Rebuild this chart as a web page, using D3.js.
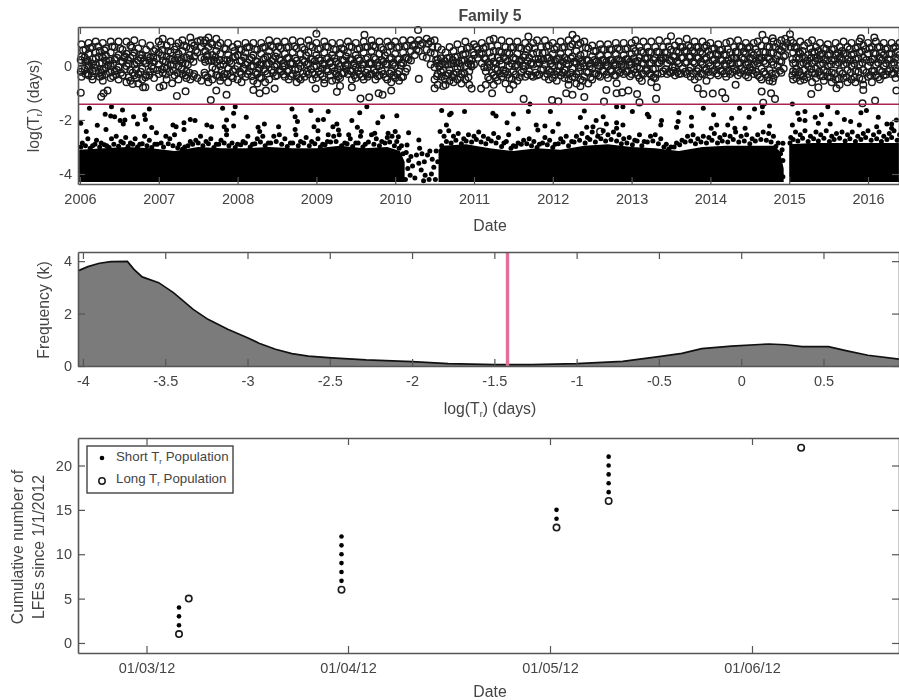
<!DOCTYPE html>
<html>
<head>
<meta charset="utf-8">
<script src="https://cdn.jsdelivr.net/npm/d3@7"></script>
<style>
  body { margin: 0; background: #fff; }
  svg { display: block; filter: blur(0.5px); font-family: "Liberation Sans", Arial, sans-serif; }
  text { fill: #444; }
</style>
</head>
<body>
<div id="chart"></div>
<script>
// tick labels
const yearTicks = [2006, 2007, 2008, 2009, 2010, 2011, 2012, 2013, 2014, 2015, 2016];
const recurrenceTicks = [-4, -2, 0];
const histTicksX = [-4, -3.5, -3, -2.5, -2, -1.5, -1, -0.5, 0, 0.5];
const histTicksY = [0, 2, 4];
const countTicks = [0, 5, 10, 15, 20];
const monthTicks = ["2012-03-01", "2012-04-01", "2012-05-01", "2012-06-01"];

// threshold between the two populations, log(Tr)
const threshold = -1.42;

const long2006 = [[.02,.8,.35,-.1,-.4],[.07,.6,.15,-.3],[.11,.85,.45,0,-.35],[.16,.7,.25,-.2,-.5],[.2,.9,.5,.05],[.25,.55,.1,-.4],[.29,.85,.3,-.15,-.55],[.33,.65,.2,-.3],[.39,.9,.5,0,-.45],[.44,.7,.25,-.2],[.49,.9,.4,-.05,-.5],[.54,.6,.15,-.35],[.59,.9,.45,0,-.6],[.64,.75,.3,-.15,-.55],[.69,.95,.5,.05,-.35],[.74,.65,.2,-.3,-.65],[.79,.85,.4,-.1,-.5],[.84,.6,.1,-.35],[.89,.75,.3,-.2],[.94,.55,.15,-.45]];
const long2007 = [[.0,.9,.5,.05,-.3],[.05,1,.6,.2,-.25],[.1,.75,.35,-.1,-.5],[.15,.9,.5,.05],[.2,.6,.2,-.35],[.25,.85,.45,0,-.5],[.3,.95,.55,.1,-.3],[.35,.7,.3,-.2,-.45],[.4,1.05,.65,.25,-.5],[.45,.75,.35,-.3],[.49,.9,.5,-.45],[.54,.7,.3,-.55],[.59,.95,.55,.15,-.35],[.63,1.05,.7,.2,-.6],[.68,.8,.4,-.05,-.5],[.73,1,.55,.15,-.35],[.78,.85,.45,0,-.55],[.83,.65,.2,-.3],[.88,.85,.4,-.1,-.6],[.94,.7,.3,-.2,-.45]];
const long2008 = [[.0,.8,.4,0,-.5],[.05,.6,.2,-.3,-.6],[.1,.85,.5,.05,-.4],[.15,.7,.25,-.2],[.2,.85,.4,0,-.55],[.25,.6,.15,-.3,-.65],[.3,.85,.45,.05,-.45],[.35,.7,.3,-.2,-.6],[.4,.95,.55,.1,-.5],[.45,.7,.25,-.25],[.5,.9,.5,.05,-.35],[.55,.65,.2,-.2],[.6,.9,.45,0,-.4],[.65,.7,.3,-.15,-.5],[.7,.95,.5,.1,-.3],[.75,.65,.2,-.35,-.6],[.8,.9,.45,0,-.5],[.85,.6,.15,-.4],[.9,.95,.5,.1,-.3],[.95,.7,.25,-.25,-.5]];
const long2009 = [[.0,.85,.4,0,-.45],[.05,.65,.2,-.3],[.1,.9,.5,.05,-.5],[.15,.7,.3,-.2],[.2,.85,.4,-.05,-.55],[.25,.6,.15,-.3,-.5],[.3,.85,.45,0,-.45],[.35,.6,.2,-.25],[.4,.9,.5,.05,-.3],[.45,.7,.25,-.2,-.5],[.5,.85,.4,-.05,-.45],[.55,.65,.2,-.3],[.6,.9,.5,.05,-.5],[.65,.7,.3,-.15,-.4],[.7,.95,.55,.1,-.3],[.75,.7,.25,-.25,-.5],[.8,.9,.45,0,-.35],[.85,.6,.15,-.3],[.9,.9,.5,.05,-.5],[.95,.75,.3,-.2,-.6]];
const long2010 = [[.0,.9,.45,0,-.45],[.05,.7,.25,-.2,-.55],[.1,.95,.5,.1,-.4],[.15,.75,.3,-.1],[.2,.95,.55,.2],[.25,.8,.4],[.3,.95,.55],[.35,.85,.35],[.4,1,.6,.3],[.45,.9,.5,.05],[.5,.95,.45,-.05,-.5],[.54,.7,.25,-.3,-.7],[.59,.6,.1,-.4],[.64,.5,.05,-.35,-.7],[.69,.7,.3,-.15,-.55],[.74,.55,.1,-.3,-.6],[.79,.8,.35,-.1,-.5],[.84,.6,.2,-.3,-.65],[.89,.9,.45,0,-.5],[.94,.7,.25,-.2,-.7]];
const long2011 = [[.0,.8,.4,.05],[.05,.6,.3],[.1,.85,.45,.1],[.15,.7,.25,-.2,-.7],[.2,.95,.5,.05,-.5],[.25,1,.55,.15,-.35,-.7],[.3,.75,.3,-.15,-.55],[.35,.95,.5,.05,-.4],[.4,.7,.25,-.2,-.65],[.45,.9,.45,0,-.45],[.5,.7,.3,-.2,-.7],[.55,.9,.45,.05,-.55],[.6,.65,.2,-.25],[.65,.85,.4,0,-.4],[.7,.7,.3,-.2],[.75,.85,.45,.05,-.4],[.8,.95,.5,.1,-.35],[.85,.7,.25,-.15],[.9,.95,.5,.05,-.4],[.95,.75,.3,-.15,-.5]];
const long2012 = [[.0,.85,.45,0,-.45],[.05,.7,.25,-.2,-.55],[.1,.9,.45,0,-.35],[.15,.7,.3,-.15,-.45],[.2,.95,.5,.05,-.5,-.7],[.25,.8,.35,-.1,-.4],[.3,1,.55,.1,-.3,-.65],[.35,.85,.4,-.05,-.5,-.75],[.4,.9,.45,0,-.4],[.45,.65,.2,-.25,-.65],[.5,.75,.35,-.1,-.5],[.55,.55,.15,-.3],[.6,.8,.4,0,-.4],[.65,.6,.2,-.2],[.7,.8,.4,0,-.45],[.75,.6,.2,-.2],[.8,.85,.45,.05,-.35],[.85,.6,.2,-.25],[.9,.85,.4,0,-.3],[.95,.65,.25,-.2]];
const long2013 = [[.0,.85,.45,.05,-.3],[.05,.95,.55,.15,-.25],[.1,.7,.3,-.1,-.45],[.15,.9,.5,.1,-.3],[.2,.7,.3,-.15],[.25,.9,.5,.1,-.35,-.6],[.3,.7,.3,-.1,-.45],[.35,.95,.5,.1],[.4,.7,.3,-.2],[.45,.9,.5,.1,-.3],[.5,1.1,.6,.2,-.25],[.55,.75,.35,-.05,-.35],[.6,.9,.5,.1,-.3],[.65,.7,.3,-.1],[.7,1,.55,.15,-.3],[.75,.7,.35,-.05,-.4],[.8,.9,.5,.1,-.5],[.85,.7,.3,-.1,-.4],[.9,.9,.45,.05,-.3],[.95,.75,.3,-.1,-.55]];
const long2014 = [[.0,.85,.4,0,-.35],[.05,.65,.25,-.15],[.1,.8,.4,0,-.35],[.15,.6,.2,-.2],[.2,.85,.4,0,-.4],[.25,.9,.5,.1,-.3],[.3,.7,.3,-.1],[.35,.95,.5,.1,-.35],[.4,.7,.3,-.1],[.45,.85,.45,.05,-.35],[.5,.7,.3,-.05],[.55,.85,.4,.05,-.3],[.6,.9,.5,.1,-.35],[.65,.75,.3,-.1,-.5],[.7,.95,.5,.1,-.3],[.75,.7,.25,-.15,-.55],[.8,.9,.5,.05,-.45],[.85,.85,.4,0],[.9,.95,.55,.15,-.25],[.95,1,.7,.4]];
const long2015 = [[.02,.95,.7],[.05,.85,.5,.1,-.2,-.5],[.09,.7,.3,-.1,-.45],[.14,.9,.45,.05,-.35,-.55],[.19,.75,.3,-.15,-.5],[.24,.85,.4,0,-.3],[.29,.95,.5,.1,-.25,-.6],[.34,.7,.3,-.1,-.45],[.39,.85,.4,.05,-.35],[.44,.65,.25,-.15,-.55],[.49,.8,.4,0,-.4],[.54,.6,.2,-.25,-.6],[.59,.85,.4,.05,-.5],[.64,.7,.3,-.2,-.7],[.69,.9,.45,.05,-.45],[.74,.7,.25,-.15,-.6],[.79,.85,.4,0,-.5],[.84,.65,.25,-.2,-.6],[.89,.9,.5,.05,-.45],[.94,.75,.3,-.15,-.7]];
const long2016 = [[.0,.85,.45,0,-.4],[.05,.7,.25,-.2,-.6],[.1,.9,.45,.05,-.35],[.15,.7,.3,-.15,-.5],[.2,.85,.4,0,-.35],[.25,.65,.25,-.2],[.3,.85,.45,.05,-.3],[.35,.7,.3,-.1,-.45],[.4,.85,.4,0,-.3]];
const longColumns = [long2006, long2007, long2008, long2009, long2010, long2011, long2012, long2013, long2014, long2015, long2016];

// more rings inside the band, it is much darker than the columns alone
const longFill = [[2006.04,.58],[2006.09,.02],[2006.13,.66],[2006.18,-.07],[2006.23,.72],[2006.27,-.24],[2006.31,.58],[2006.36,.03],[2006.41,.72],[2006.46,-.33],[2006.51,.65],[2006.56,.31],[2006.61,.22],[2006.66,.68],[2006.71,-.14],[2006.76,.42],[2006.81,.18],[2006.86,.36],[2006.91,-.02],[2006.96,.62],
[2007.03,.78],[2007.07,-.05],[2007.12,.55],[2007.17,.25],[2007.22,.72],[2007.27,.18],[2007.32,.75],[2007.37,.05],[2007.42,.85],[2007.57,.85],[2007.61,.35],[2007.66,.85],[2007.7,.22],[2007.75,.75],[2007.8,-.15],[2007.85,.62],[2007.9,.18],[2007.96,.55],[2007.53,.95],[2007.47,.58],
[2008.02,.62],[2008.07,-.1],[2008.12,.68],[2008.17,-.02],[2008.22,.62],[2008.27,-.1],[2008.32,.68],[2008.37,.08],[2008.42,.75],[2008.47,-.02],[2008.52,.72],[2008.57,-.02],[2008.62,.68],[2008.67,.08],[2008.72,.72],[2008.77,-.1],[2008.82,.68],[2008.87,.38],[2008.92,.75],[2008.97,-.02],
[2009.02,.62],[2009.07,-.1],[2009.12,.72],[2009.17,.1],[2009.22,.62],[2009.27,-.12],[2009.32,.65],[2009.37,.02],[2009.42,.72],[2009.47,.02],[2009.52,.62],[2009.57,-.1],[2009.62,.7],[2009.67,.08],[2009.72,.75],[2009.77,.02],[2009.82,.68],[2009.87,.38],[2009.92,.72],[2009.97,.05],
[2010.02,.68],[2010.07,.02],[2010.12,.72],[2010.17,.25],[2010.22,.75],[2010.27,.6],[2010.32,.78],[2010.42,.82],[2010.47,.7],[2010.52,.22],[2010.56,-.02],[2010.61,-.15],[2010.66,.28],[2010.71,.08],[2010.76,.32],[2010.81,.1],[2010.86,.42],[2010.91,.65],[2010.96,.05],[2010.99,.5],
[2011.03,.7],[2011.07,.45],[2011.12,.65],[2011.17,-.05],[2011.22,.72],[2011.27,-.1],[2011.32,.55],[2011.37,-.15],[2011.42,.5],[2011.47,.68],[2011.52,-.02],[2011.57,.68],[2011.62,.02],[2011.67,.62],[2011.72,.08],[2011.77,.65],[2011.82,.25],[2011.87,.48],[2011.92,.72],[2011.97,.08],
[2012.02,.62],[2012.07,.02],[2012.12,.68],[2012.17,.08],[2012.22,.72],[2012.27,.15],[2012.32,.78],[2012.37,.18],[2012.42,.68],[2012.47,-.02],[2012.52,.55],[2012.57,.02],[2012.62,.62],[2012.67,.02],[2012.72,.62],[2012.77,.02],[2012.82,.65],[2012.87,.05],[2012.92,.62],[2012.97,.05],
[2013.02,.65],[2013.07,-.02],[2013.12,.55],[2013.17,.28],[2013.22,.52],[2013.27,-.12],[2013.32,.52],[2013.37,.3],[2013.42,.5],[2013.47,.72],[2013.52,-.05],[2013.57,.55],[2013.62,.7],[2013.67,.55],[2013.72,.75],[2013.77,.55],[2013.82,.7],[2013.87,.52],[2013.92,.68],[2013.97,.55],
[2014.02,.62],[2014.07,.45],[2014.12,.58],[2014.17,.42],[2014.22,.62],[2014.27,.28],[2014.32,.52],[2014.37,.72],[2014.42,.52],[2014.47,.65],[2014.52,.5],[2014.57,.62],[2014.62,.3],[2014.67,.52],[2014.72,.72],[2014.77,.48],[2014.82,.7],[2014.87,.62],[2014.92,.72],[2014.97,.85],
[2015.07,.68],[2015.12,.52],[2015.17,.55],[2015.22,.08],[2015.27,.65],[2015.32,.52],[2015.37,.55],[2015.42,.45],[2015.47,.62],[2015.52,.45],[2015.57,.62],[2015.62,.48],[2015.67,.55],[2015.72,.48],[2015.77,.62],[2015.82,.45],[2015.87,.7],[2015.92,.55],[2015.97,.62],[2016.02,.65],
[2016.07,.48],[2016.12,.68],[2016.17,.5],[2016.22,.62],[2016.27,.45],[2016.32,.65],[2016.37,.52]];

// lower half of the band, also the darkest part: [year, values...]
const longLower = [[2006.01,.22,-.22],[2006.06,.32,-.12],[2006.1,.18,-.28],[2006.15,.08,-.38],[2006.2,.28,-.18],[2006.24,.35,-.26],[2006.28,.12,-.36],[2006.33,.38,-.08],[2006.38,.2,-.24],[2006.42,.08,-.38],[2006.47,.3,-.15],[2006.52,.18,-.25],[2006.57,.35,-.12],[2006.62,.08,-.42],[2006.67,.38,-.25],[2006.72,.12,-.45],[2006.77,.28,-.22],[2006.83,.1,-.42],[2006.88,.2,-.35],[2006.93,.32,-.1],
[2006.98,.28,-.15],[2007.04,.38,-.12],[2007.09,.15,-.32],[2007.14,.25,-.22],[2007.19,.05,-.18],[2007.24,.3,-.25],[2007.29,.25,-.12],[2007.34,.1,-.35],[2007.39,.4,-.25],[2007.44,.15,-.38],[2007.58,.25,-.25],[2007.62,.4,-.42],[2007.67,.2,-.28],[2007.72,.32,-.12],[2007.77,.22,-.4],[2007.82,.05,-.42],[2007.87,.22,-.3],[2007.92,.1,-.38],[2007.97,.35,-.12],
[2008.03,.18,-.22],[2008.08,.32,-.1],[2008.13,.12,-.3],[2008.18,.3,-.38],[2008.23,.18,-.25],[2008.28,.05,-.42],[2008.33,.25,-.12],[2008.38,.35,-.28],[2008.43,.18,-.15],[2008.48,.35,-.38],[2008.53,.25,-.15],[2008.58,.1,-.32],[2008.63,.28,-.2],[2008.68,.12,-.38],[2008.73,.28,-.15],[2008.78,.08,-.45],[2008.83,.22,-.28],[2008.88,.05,-.22],[2008.93,.25,-.12],[2008.98,.18,-.32],
[2009.03,.28,-.2],[2009.08,.08,-.38],[2009.13,.25,-.12],[2009.18,.15,-.35],[2009.23,.28,-.2],[2009.28,.08,-.38],[2009.33,.22,-.28],[2009.38,.35,-.12],[2009.43,.22,-.18],[2009.48,.1,-.35],[2009.53,.28,-.18],[2009.58,.05,-.4],[2009.63,.25,-.25],[2009.68,.12,-.32],[2009.73,.3,-.15],[2009.78,.12,-.38],[2009.83,.22,-.18],[2009.88,.08,-.42],[2009.93,.25,-.28],[2009.98,.12,-.35],
[2010.03,.25,-.3],[2010.08,.12,-.42],[2010.13,.3,-.22],[2010.53,.1,-.38],[2010.58,.28,-.22],[2010.63,.18,-.48],[2010.68,.05,-.28],[2010.73,.22,-.42],[2010.78,.12,-.25],[2010.83,-.02,-.42],[2010.88,.2,-.28],[2010.93,.1,-.42],[2010.97,.22,-.02],
[2011.13,.28,-.05],[2011.18,.12,-.42],[2011.23,.32,-.25],[2011.28,.08,-.42],[2011.33,.2,-.28],[2011.38,.32,-.28],[2011.43,.18,-.32],[2011.48,.08,-.48],[2011.53,.25,-.32],[2011.58,.18,-.42],[2011.63,.32,-.12],[2011.68,.18,-.32],[2011.73,.12,-.35],[2011.78,.25,-.25],[2011.83,.12,-.32],[2011.88,.22,-.12],[2011.93,.28,-.3],[2011.98,.2,-.22],
[2012.03,.18,-.32],[2012.08,.28,-.22],[2012.13,.15,-.25],[2012.18,.22,-.32],[2012.23,.28,-.25],[2012.28,.15,-.42],[2012.33,.25,-.2],[2012.38,.1,-.55],[2012.43,.22,-.22],[2012.48,.08,-.42],[2012.53,.22,-.28],[2012.58,.12,-.35],[2012.63,.22,-.18],[2012.68,.15,-.32],[2012.73,.22,-.15],[2012.78,.12,-.35],[2012.83,.25,-.18],[2012.88,.18,-.12],[2012.93,.25,-.22],[2012.98,.15,-.38],
[2013.03,.28,-.12],[2013.08,.18,-.35],[2013.13,.1,-.28],[2013.18,.25,-.18],[2013.23,.12,-.28],[2013.28,.22,-.42],[2013.33,.12,-.3],[2013.38,.2,-.28],[2013.43,.3,-.12],[2013.48,.22,-.22],[2013.53,.35,-.18],[2013.58,.18,-.22],[2013.63,.3,-.28],[2013.68,.12,-.22],[2013.73,.32,-.18],[2013.78,.15,-.28],[2013.83,.3,-.2],[2013.88,.15,-.28],[2013.93,.25,-.15],[2013.98,.12,-.22],
[2014.03,.2,-.22],[2014.08,.1,-.28],[2014.13,.22,-.18],[2014.18,.08,-.28],[2014.23,.2,-.18],[2014.28,.1,-.22],[2014.33,.28,-.18],[2014.38,.12,-.25],[2014.43,.25,-.18],[2014.48,.12,-.22],[2014.53,.25,-.15],[2014.58,.18,-.22],[2014.63,.22,-.42],[2014.68,.18,-.22],[2014.73,.3,-.42],[2014.78,.15,-.28],[2014.83,.25,-.3],[2014.88,.18,-.18],[2014.93,.35,-.1],
[2015.04,.25,-.35],[2015.08,.12,-.25],[2015.13,.28,-.22],[2015.18,.12,-.38],[2015.23,.2,-.42],[2015.28,.3,-.12],[2015.33,.18,-.28],[2015.38,.25,-.22],[2015.43,.1,-.38],[2015.48,.2,-.22],[2015.53,.05,-.42],[2015.58,.22,-.28],[2015.63,.12,-.48],[2015.68,.22,-.28],[2015.73,.1,-.42],[2015.78,.2,-.25],[2015.83,.08,-.42],[2015.88,.28,-.22],[2015.93,.12,-.5],[2015.98,.22,-.25],
[2016.03,.15,-.35],[2016.08,.25,-.2],[2016.13,.12,-.42],[2016.18,.22,-.22],[2016.23,.1,-.32],[2016.28,.22,-.12],[2016.33,.12,-.28],[2016.38,.25,-.15]];

// rings standing apart from the band, read one by one
const longOutliers = [[2006.01,-.99],[2006.27,-1.14],[2006.3,-1.01],[2006.35,-.91],[2006.67,-.67],[2006.8,-.79],[2006.83,-.79],[2007.01,-.79],[2007.06,-.73],[2007.17,-.64],[2007.23,-1.11],[2007.34,-.94],[2007.66,-1.26],[2007.73,-.91],[2007.86,-1.07],[2008.2,-.89],[2008.28,-1.01],[2008.36,-.91],[2008.47,-.84],[2009,1.19],[2008.99,-.84],[2009.1,-.64],[2009.26,-.96],[2009.3,-.74],[2009.45,-.79],[2009.61,1.15],[2009.56,-1.21],[2009.67,-1.16],[2009.79,-1.01],[2009.84,-1.07],[2009.95,-.91],[2010.29,1.33],[2010.3,-.48],[2010.5,-.83],[2010.61,-.74],[2010.97,-.84],[2011.09,-.84],[2011.23,-1.01],[2011.45,-.86],[2011.63,-1.22],[2011.69,1.09],[2011.99,-1.26],[2012.07,-1.31],[2012.17,-1.01],[2012.25,-1.07],[2012.25,1.15],[2012.4,-1.15],[2012.65,-1.32],[2012.68,-.89],[2012.81,-1.01],[2012.81,-.64],[2012.88,-.98],[2012.96,-.91],[2013.07,-1.04],[2013.1,-1.35],[2013.13,-.56],[2013.31,-1.22],[2013.32,-.79],[2013.84,-.83],[2013.91,-1.04],[2014.03,-1.02],[2014.15,-.98],[2014.19,-1.2],[2014.32,-.7],[2014.48,-.42],[2014.66,1.15],[2014.79,1.02],[2015.01,1.17],[2014.65,-.95],[2014.79,-.58],[2014.77,-1.01],[2014.82,-1.22],[2014.67,-1.36],[2015.28,-1.04],[2015.37,-.79],[2015.6,-.83],[2015.93,-1.38],[2015.94,-.89],[2016.09,-1.28],[2015.91,1.02],[2016.08,1.05],[2016.36,-.91],[2012.6,-2.43]];

// short Tr dots above the solid cloud, read one by one
const shortIsolated = [[2006.12,-1.57],[2006.4,-1.51],[2006.54,-1.63],[2006.32,-1.79],[2006.39,-1.85],[2006.44,-1.88],[2006.51,-2.02],[2006.57,-2],[2006.55,-2.15],[2006.68,-1.88],[2006.73,-2.15],[2006.82,-1.81],[2006.83,-1.98],[2006.88,-1.59],[2006.91,-2.28],[2006.01,-2.12],[2006.08,-2.43],[2006.22,-2.2],[2006.33,-2.35],[2006.97,-2.47],[2007.18,-2.19],[2007.22,-2.25],[2007.32,-2.1],[2007.32,-2.35],[2007.4,-1.98],[2007.46,-2.02],[2007.61,-2.19],[2007.67,-2.25],[2007.81,-1.57],[2007.97,-1.51],[2007.95,-1.75],[2007.86,-2],[2007.83,-2.25],[2007.86,-2.37],[2007.95,-2.22],[2008.11,-1.9],[2008.26,-2.27],[2008.34,-2.15],[2008.28,-2.43],[2008.52,-2.25],[2008.69,-1.59],[2008.73,-1.88],[2008.76,-2.06],[2008.73,-2.35],[2008.93,-1.65],[2009.15,-1.69],[2009.02,-2],[2009.09,-1.98],[2008.97,-2.25],[2009.02,-2.4],[2009.26,-2.15],[2009.21,-2.25],[2009.28,-2.37],[2009.15,-2.55],[2009.45,-2.02],[2009.52,-2.27],[2009.41,-2.55],[2009.55,-1.73],[2009.64,-1.51],[2009.57,-2.43],[2009.84,-1.88],[2009.78,-2.1],[2009.74,-2.49],[2010.02,-1.84],[2009.91,-2.49],[2010,-2.43],[2010.04,-2.62],[2010.17,-2.47],[2010.15,-2.93],[2010.3,-2.74],[2010.59,-1.65],[2010.69,-1.81],[2010.65,-2.19],[2010.57,-2.43],[2010.71,-1.75],[2010.88,-1.69],[2011.24,-1.75],[2011.28,-1.85],[2011.5,-1.78],[2011.42,-2.1],[2011.56,-2.33],[2011.69,-1.69],[2011.71,-1.41],[2011.97,-1.69],[2012.07,-2.15],[2011.79,-2.19],[2011.9,-2.22],[2011.81,-2.37],[2012,-2.43],[2012.4,-1.67],[2012.35,-1.91],[2012.64,-1.88],[2012.55,-2.02],[2012.68,-2.15],[2012.51,-2.25],[2012.43,-2.27],[2012.81,-2.1],[2012.89,-2.19],[2012.81,-2.31],[2012.81,-1.51],[2012.89,-1.51],[2013.01,-1.69],[2013.2,-1.79],[2013.22,-1.88],[2013.38,-2.02],[2013.37,-2.19],[2013.6,-1.73],[2013.59,-2.06],[2013.57,-2.27],[2013.76,-1.9],[2013.76,-2.22],[2013.91,-1.57],[2014.04,-1.81],[2014.08,-2.19],[2014.01,-2.31],[2014.27,-1.94],[2014.22,-2.19],[2014.31,-2.31],[2014.37,-1.57],[2014.56,-1.59],[2014.66,-1.51],[2014.66,-1.73],[2014.49,-1.9],[2014.44,-2.31],[2014.75,-2.22],[2014.92,-2.86],[2014.92,-4.1],[2015.04,-1.41],[2015.04,-2.19],[2015.11,-1.75],[2015.2,-1.69],[2015.13,-1.98],[2015.2,-2.02],[2015.33,-1.9],[2015.41,-1.81],[2015.37,-2.12],[2015.52,-2.15],[2015.49,-1.51],[2015.61,-1.72],[2015.7,-1.98],[2015.78,-2.06],[2015.89,-2.19],[2015.91,-1.73],[2015.98,-1.65],[2016.13,-1.9],[2016.24,-2.15],[2016.3,-2.15],[2016.3,-2.31],[2016.11,-2.25],[2016.36,-2]];

// ragged upper edge of the cloud, also by eye
const shortEdge = [[2006.03,-2.85],[2006.1,-2.7],[2006.16,-2.95],[2006.21,-2.75],[2006.27,-2.85],[2006.34,-2.95],[2006.4,-2.7],[2006.46,-2.6],[2006.52,-2.8],[2006.58,-2.65],[2006.64,-2.85],[2006.7,-2.7],[2006.76,-2.9],[2006.82,-2.6],[2006.88,-2.75],[2006.95,-2.9],[2007.03,-2.85],[2007.09,-2.6],[2007.14,-2.7],[2007.2,-2.55],[2007.26,-2.9],[2007.33,-3],[2007.4,-2.8],[2007.47,-2.75],[2007.53,-2.6],[2007.6,-2.8],[2007.66,-2.7],[2007.73,-2.9],[2007.79,-2.75],[2007.86,-2.55],[2007.93,-2.85],[2008,-2.9],[2008.07,-2.8],[2008.13,-2.6],[2008.19,-2.9],[2008.25,-2.7],[2008.32,-2.6],[2008.39,-2.85],[2008.46,-2.6],[2008.53,-2.55],[2008.6,-2.7],[2008.67,-2.85],[2008.74,-2.55],[2008.8,-2.8],[2008.87,-2.65],[2008.94,-2.8],[2009.02,-2.7],[2009.08,-2.9],[2009.14,-2.8],[2009.22,-2.6],[2009.29,-2.55],[2009.36,-2.85],[2009.43,-2.7],[2009.5,-2.85],[2009.56,-2.6],[2009.62,-2.9],[2009.7,-2.55],[2009.76,-2.7],[2009.83,-2.8],[2009.9,-2.65],[2009.96,-2.6],[2010.02,-2.8],[2010.08,-2.95],[2010.62,-2.6],[2010.68,-2.4],[2010.74,-2.6],[2010.8,-2.5],[2010.87,-2.7],[2010.93,-2.55],[2011,-2.6],[2011.06,-2.45],[2011.12,-2.6],[2011.18,-2.7],[2011.25,-2.5],[2011.31,-2.65],[2011.38,-2.85],[2011.44,-2.55],[2011.5,-2.95],[2011.56,-2.85],[2011.63,-2.75],[2011.7,-2.7],[2011.76,-2.8],[2011.83,-2.9],[2011.9,-2.65],[2011.96,-2.75],[2012.03,-2.9],[2012.1,-2.7],[2012.17,-2.6],[2012.24,-2.8],[2012.3,-2.6],[2012.37,-2.5],[2012.44,-2.65],[2012.5,-2.45],[2012.57,-2.6],[2012.64,-2.4],[2012.7,-2.55],[2012.77,-2.45],[2012.84,-2.55],[2012.9,-2.7],[2012.97,-2.65],[2013.04,-2.75],[2013.1,-2.55],[2013.16,-2.8],[2013.24,-2.6],[2013.3,-2.55],[2013.37,-2.7],[2013.44,-2.9],[2013.5,-3],[2013.57,-2.85],[2013.64,-2.75],[2013.71,-2.6],[2013.78,-2.55],[2013.84,-2.7],[2013.91,-2.6],[2013.98,-2.65],[2014.05,-2.5],[2014.12,-2.65],[2014.18,-2.55],[2014.25,-2.6],[2014.32,-2.45],[2014.39,-2.6],[2014.46,-2.55],[2014.53,-2.7],[2014.6,-2.55],[2014.67,-2.45],[2014.74,-2.5],[2014.8,-2.6],[2014.86,-2.85],[2014.91,-3.1],[2015.02,-2.65],[2015.08,-2.45],[2015.14,-2.55],[2015.2,-2.4],[2015.27,-2.6],[2015.34,-2.45],[2015.4,-2.55],[2015.47,-2.4],[2015.54,-2.6],[2015.6,-2.5],[2015.67,-2.45],[2015.74,-2.55],[2015.8,-2.45],[2015.87,-2.6],[2015.94,-2.5],[2016,-2.4],[2016.07,-2.55],[2016.14,-2.45],[2016.2,-2.6],[2016.27,-2.5],[2016.33,-2.4],[2016.4,-2.55]];

// a second row closing the step between those dots and the solid cloud
const shortEdgeLow = [[2006.01,-3],[2006.07,-2.95],[2006.13,-3.05],[2006.19,-2.9],[2006.25,-3],[2006.31,-2.92],[2006.37,-3.02],[2006.43,-2.9],[2006.49,-2.97],[2006.55,-2.85],[2006.61,-2.98],[2006.67,-2.9],[2006.73,-3],[2006.79,-2.88],[2006.85,-2.95],[2006.91,-3.02],[2006.98,-2.9],[2007.06,-3],[2007.12,-2.88],[2007.18,-2.95],[2007.24,-3.03],[2007.3,-3.08],[2007.37,-2.95],[2007.43,-2.9],[2007.5,-2.85],[2007.56,-2.95],[2007.63,-2.88],[2007.7,-3.02],[2007.76,-2.9],[2007.83,-2.85],[2007.89,-2.95],[2007.97,-3.02],[2008.04,-2.92],[2008.1,-2.85],[2008.16,-3],[2008.22,-2.88],[2008.29,-2.82],[2008.35,-2.95],[2008.42,-2.85],[2008.49,-2.8],[2008.56,-2.9],[2008.63,-2.98],[2008.7,-2.85],[2008.77,-2.95],[2008.84,-2.85],[2008.91,-2.95],[2008.98,-2.88],[2009.05,-3],[2009.11,-2.92],[2009.18,-2.82],[2009.25,-2.8],[2009.32,-2.95],[2009.39,-2.88],[2009.46,-2.98],[2009.53,-2.85],[2009.59,-3],[2009.66,-2.82],[2009.73,-2.9],[2009.8,-2.95],[2009.87,-2.85],[2009.93,-2.82],[2009.99,-2.95],[2010.05,-3.05],[2010.1,-3.25],[2010.59,-2.95],[2010.65,-2.8],[2010.71,-2.85],[2010.77,-2.75],[2010.84,-2.88],[2010.9,-2.78],[2010.97,-2.82],[2011.03,-2.72],[2011.09,-2.82],[2011.15,-2.88],[2011.22,-2.78],[2011.28,-2.85],[2011.35,-2.98],[2011.41,-2.8],[2011.47,-3.05],[2011.53,-2.98],[2011.6,-2.9],[2011.67,-2.88],[2011.73,-2.95],[2011.8,-3.02],[2011.87,-2.85],[2011.93,-2.92],[2012,-3.02],[2012.07,-2.88],[2012.13,-2.82],[2012.2,-2.95],[2012.27,-2.82],[2012.34,-2.75],[2012.41,-2.85],[2012.47,-2.72],[2012.54,-2.82],[2012.61,-2.7],[2012.67,-2.78],[2012.74,-2.72],[2012.81,-2.78],[2012.87,-2.88],[2012.94,-2.85],[2013.01,-2.92],[2013.07,-2.78],[2013.13,-2.95],[2013.2,-2.82],[2013.27,-2.78],[2013.34,-2.88],[2013.41,-3],[2013.47,-3.08],[2013.54,-3],[2013.61,-2.92],[2013.68,-2.82],[2013.75,-2.78],[2013.81,-2.88],[2013.88,-2.82],[2013.95,-2.85],[2014.02,-2.75],[2014.09,-2.85],[2014.15,-2.78],[2014.22,-2.82],[2014.29,-2.72],[2014.36,-2.82],[2014.43,-2.78],[2014.5,-2.88],[2014.57,-2.78],[2014.64,-2.72],[2014.71,-2.75],[2014.77,-2.82],[2014.83,-2.98],[2014.89,-3.25],[2014.92,-3.5],[2015.01,-2.85],[2015.05,-2.72],[2015.11,-2.78],[2015.17,-2.68],[2015.24,-2.8],[2015.31,-2.7],[2015.37,-2.78],[2015.44,-2.68],[2015.51,-2.8],[2015.57,-2.72],[2015.64,-2.68],[2015.71,-2.78],[2015.77,-2.7],[2015.84,-2.8],[2015.91,-2.72],[2015.97,-2.65],[2016.04,-2.75],[2016.11,-2.7],[2016.17,-2.8],[2016.24,-2.72],[2016.3,-2.65],[2016.37,-2.75]];

// sparse stretch in 2010 where the cloud thins out
const shortGap2010 = [[2010.14,-3.2],[2010.17,-3.5],[2010.2,-3.35],[2010.16,-3.8],[2010.19,-4.05],[2010.13,-4.2],[2010.22,-3.7],[2010.25,-4.15],[2010.27,-3.3],[2010.31,-3.05],[2010.34,-3.25],[2010.3,-3.6],[2010.33,-3.85],[2010.37,-3.55],[2010.41,-3.3],[2010.44,-3.15],[2010.38,-4.05],[2010.43,-4.2],[2010.36,-4.25],[2010.47,-3.45],[2010.49,-3.75],[2010.46,-4],[2010.51,-4.2],[2010.52,-3.15],[2010.54,-3.55]];

// the solid part of the cloud has thousands of overlapping dots, so it is kept as its upper edge
const denseYears = [2005.99, 2006.3, 2006.6, 2006.9, 2007.2, 2007.5, 2007.8, 2008.1, 2008.4, 2008.7, 2009, 2009.3, 2009.6, 2009.9, 2010.06, 2010.12, null, 2010.55, 2010.6, 2010.9, 2011.2, 2011.5, 2011.8, 2012.1, 2012.4, 2012.7, 2013, 2013.3, 2013.6, 2013.9, 2014.2, 2014.5, 2014.8, 2014.88, 2014.93, null, 2015, 2015.3, 2015.6, 2015.9, 2016.2, 2016.42];
const denseTop = [-3.1, -3.05, -3, -3.05, -3.15, -3, -3.05, -3.05, -3, -3.05, -3.05, -2.95, -3.05, -3, -3.15, -3.55, null, -3.1, -2.95, -2.9, -3.05, -3.15, -3.05, -3.1, -2.95, -2.9, -3, -3.05, -3.15, -3, -2.95, -2.95, -2.95, -3.15, -3.8, null, -2.9, -2.85, -2.85, -2.85, -2.85, -2.85];
const denseBottom = -4.3;

// middle panel, frequency (k) against log(Tr)
const histBins = [-4.03,-3.97,-3.9,-3.83,-3.73,-3.69,-3.64,-3.54,-3.45,-3.33,-3.24,-3.12,-3,-2.93,-2.83,-2.73,-2.63,-2.49,-2.28,-2,-1.78,-1.5,-1.27,-1,-.72,-.5,-.36,-.24,-.06,.17,.27,.37,.53,.65,.77,.97];
const histFreq = [3.63,3.79,3.92,3.98,3.99,3.69,3.4,3.18,2.8,2.16,1.78,1.4,1.08,.87,.64,.47,.38,.31,.23,.17,.09,.05,.05,.09,.18,.36,.48,.66,.76,.84,.81,.74,.74,.57,.41,.25];

// bottom panel, cumulative count
const shortDates = ["2012-03-06","2012-03-06","2012-03-06","2012-03-31","2012-03-31","2012-03-31","2012-03-31","2012-03-31","2012-03-31","2012-05-02","2012-05-02","2012-05-10","2012-05-10","2012-05-10","2012-05-10","2012-05-10"];
const shortCounts = [2,3,4,7,8,9,10,11,12,14,15,17,18,19,20,21];
const longDates = ["2012-03-06","2012-03-07T12:00","2012-03-31","2012-05-02","2012-05-10","2012-06-08T10:00"];
const longCounts = [1,5,6,13,16,22];

const width = 899, height = 700;
const left = 78, right = 900;
const ink = "#1a1a1a", frame = "#555", tickSize = 7, labelSize = 14.5, titleSize = 15.8;
const parseDay = s => new Date(s.length > 10 ? s + "Z" : s + "T00:00Z");

const svg = d3.select("#chart").append("svg").attr("width", width).attr("height", height);

function frameAxes(x, y, top, bottom, xTicks, yTicks, xFormat) {
  const g = svg.append("g");
  const sizes = [
    [d3.axisBottom(x).tickValues(xTicks).tickFormat(xFormat).tickSizeInner(-tickSize), bottom, true],
    [d3.axisTop(x).tickValues(xTicks).tickFormat("").tickSizeInner(-tickSize), top, false],
  ];
  sizes.forEach(([axis, pos, labels]) => {
    const a = g.append("g").attr("transform", `translate(0,${pos})`)
      .call(axis.tickSizeOuter(0).tickPadding(labels ? 10 : 0));
    a.selectAll("text").style("font-size", labelSize + "px");
  });
  [[d3.axisLeft(y), left, true], [d3.axisRight(y), right - 1, false]].forEach(([axis, pos, labels]) => {
    const a = g.append("g").attr("transform", `translate(${pos},0)`)
      .call(axis.tickValues(yTicks).tickFormat(labels ? d => d : "")
        .tickSizeInner(-tickSize).tickSizeOuter(0).tickPadding(labels ? 6 : 0));
    a.selectAll("text").style("font-size", labelSize + "px");
  });
  g.selectAll(".domain").attr("stroke", frame).attr("stroke-width", 1.6);
  g.selectAll(".tick line").attr("stroke", frame).attr("stroke-width", 1.2);
  g.selectAll("text").attr("fill", "#444").attr("font-family", null);
}

// label with a small subscript r after the T
function addLogLabel(sel) {
  sel.append("tspan").text("log(T");
  sel.append("tspan").text("r").attr("dy", 3).style("font-size", "9px");
  sel.append("tspan").text(") (days)").attr("dy", -3);
}

// ---- top panel ----
const x1 = d3.scaleLinear().domain([2005.975, 2016.406]).range([left, right]);
const y1 = d3.scaleLinear().domain([-4.37, 1.44]).range([184, 27]);

const longPoints = longOutliers.concat(longFill);
longColumns.forEach((cols, i) => {
  cols.forEach(c => c.slice(1).forEach(v => longPoints.push([yearTicks[i] + c[0], v])));
});
longLower.forEach(c => c.slice(1).forEach(v => longPoints.push([c[0], v])));
const shortPoints = shortIsolated.concat(shortEdge, shortEdgeLow, shortGap2010);

const panel1 = svg.append("g");
panel1.append("g").selectAll("circle").data(longPoints).join("circle")
  .attr("cx", d => x1(d[0])).attr("cy", d => y1(d[1])).attr("r", 3.3)
  .attr("fill", "none").attr("stroke", ink).attr("stroke-width", 1.45);

const denseArea = d3.area()
  .defined(d => d[0] !== null)
  .x(d => x1(d[0])).y0(y1(denseBottom)).y1(d => y1(d[1]));
panel1.append("path").datum(d3.zip(denseYears, denseTop)).attr("d", denseArea).attr("fill", "#000");

panel1.append("g").selectAll("circle").data(shortPoints).join("circle")
  .attr("cx", d => x1(d[0])).attr("cy", d => y1(d[1])).attr("r", 2.5).attr("fill", "#000");

panel1.append("line").attr("x1", left).attr("x2", right)
  .attr("y1", y1(threshold)).attr("y2", y1(threshold))
  .attr("stroke", "#ab2453").attr("stroke-width", 1.6);

frameAxes(x1, y1, 27, 184, yearTicks, recurrenceTicks, d3.format("d"));

svg.append("text").attr("x", 490).attr("y", 21).attr("text-anchor", "middle")
  .attr("font-weight", "bold").style("font-size", "15.8px").text("Family 5");
svg.append("text").attr("x", 490).attr("y", 231).attr("text-anchor", "middle")
  .style("font-size", titleSize + "px").text("Date");
addLogLabel(svg.append("text").attr("transform", "translate(39,106) rotate(-90)")
  .attr("text-anchor", "middle").style("font-size", titleSize + "px"));

// ---- middle panel ----
const x2 = d3.scaleLinear().domain([-4.03, 0.965]).range([left, right]);
const y2 = d3.scaleLinear().domain([0, 4.35]).range([366, 252]);

const histData = d3.zip(histBins, histFreq);
svg.append("path").datum(histData)
  .attr("d", d3.area().x(d => x2(d[0])).y0(y2(0)).y1(d => y2(d[1])))
  .attr("fill", "#7b7b7b");
svg.append("path").datum(histData)
  .attr("d", d3.line().x(d => x2(d[0])).y(d => y2(d[1])))
  .attr("fill", "none").attr("stroke", "#111").attr("stroke-width", 1.7);

svg.append("line").attr("x1", x2(threshold)).attr("x2", x2(threshold))
  .attr("y1", 252).attr("y2", 366)
  .attr("stroke", "#e0709a").attr("stroke-width", 3.4);

frameAxes(x2, y2, 252, 366, histTicksX, histTicksY, d => d);

addLogLabel(svg.append("text").attr("x", 490).attr("y", 414).attr("text-anchor", "middle")
  .style("font-size", titleSize + "px"));
svg.append("text").attr("transform", "translate(49,310) rotate(-90)")
  .attr("text-anchor", "middle").style("font-size", titleSize + "px").text("Frequency (k)");

// ---- bottom panel ----
const monthDates = monthTicks.map(parseDay);
const x3 = d3.scaleUtc()
  .domain([parseDay("2012-02-20"), ...monthDates, parseDay("2012-06-23T08:00")])
  .range([left, 146.5, 348, 550, 752, right]);
const y3 = d3.scaleLinear().domain([-1.13, 23.1]).range([653, 438]);

svg.append("g").selectAll("circle").data(d3.zip(shortDates, shortCounts)).join("circle")
  .attr("cx", d => x3(parseDay(d[0]))).attr("cy", d => y3(d[1])).attr("r", 2.3).attr("fill", "#000");
svg.append("g").selectAll("circle").data(d3.zip(longDates, longCounts)).join("circle")
  .attr("cx", d => x3(parseDay(d[0]))).attr("cy", d => y3(d[1])).attr("r", 3.2)
  .attr("fill", "none").attr("stroke", ink).attr("stroke-width", 1.6);

frameAxes(x3, y3, 438, 653, monthDates, countTicks, d3.utcFormat("%d/%m/%y"));

svg.append("text").attr("x", 490).attr("y", 697).attr("text-anchor", "middle")
  .style("font-size", titleSize + "px").text("Date");
svg.append("text").attr("transform", "translate(23,547) rotate(-90)")
  .attr("text-anchor", "middle").style("font-size", titleSize + "px").text("Cumulative number of");
svg.append("text").attr("transform", "translate(44,547) rotate(-90)")
  .attr("text-anchor", "middle").style("font-size", titleSize + "px").text("LFEs since 1/1/2012");

// legend
const legend = svg.append("g").attr("transform", "translate(87,446)");
legend.append("rect").attr("width", 146).attr("height", 47)
  .attr("fill", "#fff").attr("stroke", "#444").attr("stroke-width", 1.4);
[["Short T", " Population", true, 11], ["Long T", " Population", false, 33]].forEach(([a, b, dot, yy]) => {
  if (dot) legend.append("circle").attr("cx", 15).attr("cy", yy + 1).attr("r", 2.3).attr("fill", "#000");
  else legend.append("circle").attr("cx", 15).attr("cy", yy + 2).attr("r", 3.2)
    .attr("fill", "none").attr("stroke", ink).attr("stroke-width", 1.5);
  const t = legend.append("text").attr("x", 29).attr("y", yy + 4).style("font-size", "13.3px");
  t.append("tspan").text(a);
  t.append("tspan").text("r").attr("dy", 3).style("font-size", "8px");
  t.append("tspan").text(b).attr("dy", -3);
});
</script>
</body>
</html>
